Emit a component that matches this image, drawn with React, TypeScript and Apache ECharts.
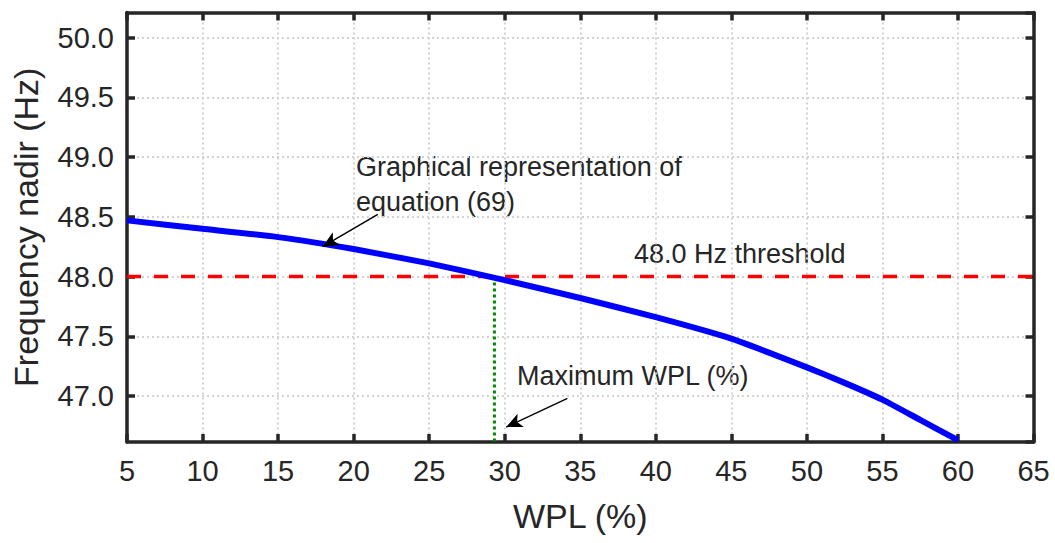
import React, { useEffect, useRef } from "react";
import * as echarts from "echarts";

// ---- data ----
const wpl: number[] = [5, 10, 15, 20, 25, 30, 35, 40, 45, 50, 52.5, 55, 57.5, 60];
const nadir: number[] = [48.47, 48.4, 48.33, 48.23, 48.11, 47.97, 47.82, 47.66, 47.48, 47.24, 47.11, 46.97, 46.8, 46.63];
const thresholdHz = 48.0;
const thresholdX: number[] = [5, 65];
const maxWpl = 29.32;
const xTicks = { min: 5, max: 65, step: 5 };
const yRange = { min: 46.615, max: 50.21 };
const arrowCurve: number[][] = [[21.6, 48.52], [17.95, 48.25]];
const arrowWpl: number[][] = [[34.15, 46.98], [30.1, 46.74]];

const FONT = "'Liberation Sans', Arial, Helvetica, sans-serif";
const DARK = "#262626";

export default function App() {
  const ref = useRef<HTMLDivElement>(null);
  useEffect(() => {
    if (!ref.current) return;
    const chart = echarts.init(ref.current, undefined, { renderer: "svg" });
    const axisLine = { show: true, lineStyle: { color: DARK, width: 3.5 } };
    const axisTick = { show: true, inside: true, length: 8, lineStyle: { color: DARK, width: 3.5 } };
    const gridLine = { show: true, lineStyle: { color: "#d2d2d2", width: 2, type: [2, 3] } };
    const option: any = {
      animation: false,
      backgroundColor: "#ffffff",
      grid: { left: 127, right: 21.5, top: 12.5, bottom: 101, containLabel: false },
      xAxis: [
        {
          type: "value",
          position: "bottom",
          min: xTicks.min,
          max: xTicks.max,
          interval: xTicks.step,
          axisLine,
          axisTick,
          splitLine: gridLine,
          axisLabel: { fontSize: 29, color: DARK, fontFamily: FONT, margin: 14 },
          name: "WPL (%)",
          nameLocation: "middle",
          nameGap: 57,
          nameTextStyle: { fontSize: 34, color: DARK, fontFamily: FONT },
        },
        {
          type: "value",
          position: "top",
          min: xTicks.min,
          max: xTicks.max,
          interval: xTicks.step,
          axisLine,
          axisTick,
          splitLine: { show: false },
          axisLabel: { show: false },
        },
      ],
      yAxis: [
        {
          type: "value",
          position: "left",
          min: yRange.min,
          max: yRange.max,
          splitNumber: 7,
          axisLine,
          axisTick,
          splitLine: gridLine,
          axisLabel: {
            fontSize: 29,
            color: DARK,
            fontFamily: FONT,
            margin: 13,
            showMinLabel: false,
            showMaxLabel: false,
            formatter: (v: number) => v.toFixed(1),
          },
          name: "Frequency nadir (Hz)",
          nameLocation: "middle",
          nameGap: 84,
          nameTextStyle: { fontSize: 34, color: DARK, fontFamily: FONT },
        },
        {
          type: "value",
          position: "right",
          min: yRange.min,
          max: yRange.max,
          splitNumber: 7,
          axisLine,
          axisTick,
          splitLine: { show: false },
          axisLabel: { show: false },
        },
      ],
      series: [
        {
          type: "line",
          data: thresholdX.map((x) => [x, thresholdHz]),
          symbol: "none",
          lineStyle: { color: "#ff0000", width: 3.5, type: [14, 13] },
          silent: true,
          z: 3,
        },
        {
          type: "line",
          data: [[maxWpl, thresholdHz], [maxWpl, yRange.min]],
          symbol: "none",
          lineStyle: { color: "#008a00", width: 3, type: [3, 3] },
          silent: true,
          z: 3,
        },
        {
          type: "line",
          data: wpl.map((x, i) => [x, nadir[i]]),
          symbol: "none",
          smooth: 0.15,
          lineStyle: { color: "#0000ff", width: 6, join: "round" },
          silent: true,
          z: 4,
        },
        {
          type: "line",
          data: [],
          silent: true,
          markLine: {
            silent: true,
            symbol: ["none", "arrow"],
            symbolSize: [11, 16],
            label: { show: false },
            lineStyle: { color: "#000000", width: 1.5, type: "solid" },
            data: [
              [{ coord: arrowCurve[0] }, { coord: arrowCurve[1] }],
              [{ coord: arrowWpl[0] }, { coord: arrowWpl[1] }],
            ],
          },
          z: 5,
        },
      ],
      graphic: [
        {
          type: "text",
          style: { x: 356, y: 166.5, text: "Graphical representation of", font: `27px ${FONT}`, fill: DARK, verticalAlign: "middle" },
        },
        {
          type: "text",
          style: { x: 356, y: 201.5, text: "equation (69)", font: `27px ${FONT}`, fill: DARK, verticalAlign: "middle" },
        },
        {
          type: "text",
          style: { x: 634, y: 253.5, text: "48.0 Hz threshold", font: `27px ${FONT}`, fill: DARK, verticalAlign: "middle" },
        },
        {
          type: "text",
          style: { x: 517, y: 376, text: "Maximum WPL (%)", font: `27px ${FONT}`, fill: DARK, verticalAlign: "middle" },
        },
      ],
    };
    chart.setOption(option);
    return () => chart.dispose();
  }, []);
  return (
    <div
      ref={ref}
      style={{ position: "absolute", left: 0, top: 0, width: 1055, height: 543, background: "#fff" }}
    />
  );
}
